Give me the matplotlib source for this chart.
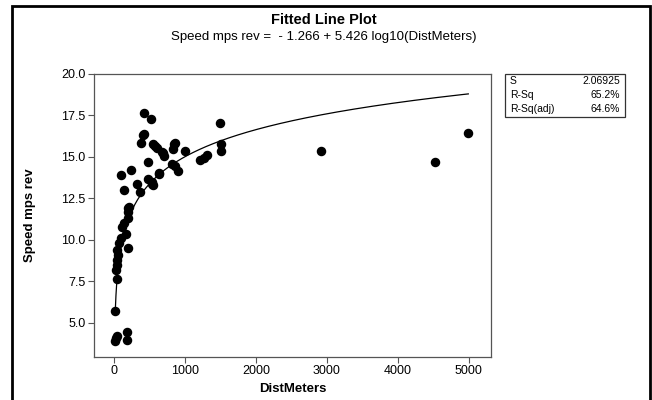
import numpy as np
import matplotlib.pyplot as plt

plt.rcParams['font.family'] = ['Liberation Sans', 'DejaVu Sans']

# distance (m) and reversed speed (m/s)
dist = [20, 30, 45, 190, 190,
        20, 44,
        35, 38, 40, 60, 45, 75, 95, 110, 140, 175, 195, 200, 200, 200, 211,
        99, 145, 244, 324, 371, 376, 413, 423, 423, 474, 479, 521, 531, 535,
        554, 554, 577, 606, 634, 638, 681, 685, 709, 812, 836, 845, 859, 859,
        897, 1000, 1211, 1272, 1305, 1488, 1502, 1502, 2915, 4516, 4991]
speed = [3.88, 4.1, 4.2, 4.42, 3.94,
         5.72, 7.66,
         8.2, 8.5, 8.8, 9.1, 9.39, 9.83, 10.1, 10.75, 11.0, 10.35, 9.5, 11.3, 11.7, 11.93, 12.0,
         13.9, 13.03, 14.19, 13.35, 12.9, 15.84, 16.34, 17.66, 16.36, 13.7, 14.7, 17.3, 13.5, 13.39,
         13.3, 15.76, 15.64, 15.56, 13.95, 14.03, 15.3, 15.23, 15.03, 14.55, 15.5, 15.76, 14.43, 15.84,
         14.15, 15.35, 14.84, 14.96, 15.1, 17.06, 15.76, 15.35, 15.35, 14.72, 16.46]

b0, b1 = -1.266, 5.426
stats_names = ['S', 'R-Sq', 'R-Sq(adj)']
stats_vals = ['2.06925', '65.2%', '64.6%']

fig = plt.figure(figsize=(6.52, 4.0), dpi=100)
ax = fig.add_axes([0.144, 0.1075, 0.609, 0.7075])

ax.scatter(dist, speed, s=34, color='black', zorder=3)
xf = np.geomspace(min(dist), max(dist), 300)
ax.plot(xf, b0 + b1 * np.log10(xf), color='black', lw=0.9)

ax.set_xlim(-282, 5310)
ax.set_ylim(2.94, 20.0)
ax.set_xticks([0, 1000, 2000, 3000, 4000, 5000])
ax.set_yticks([5.0, 7.5, 10.0, 12.5, 15.0, 17.5, 20.0])
ax.set_yticklabels(['5.0', '7.5', '10.0', '12.5', '15.0', '17.5', '20.0'])
for sp in ax.spines.values():
    sp.set_color('#555555')
    sp.set_linewidth(0.9)
ax.tick_params(direction='out', length=4, width=0.8, color='#555555', labelsize=9, pad=2)

ax.set_xlabel('DistMeters', fontsize=9.5, fontweight='bold', labelpad=4)
ax.set_ylabel('Speed mps rev', fontsize=9.5, fontweight='bold', labelpad=18)

fig.text(0.497, 0.950, 'Fitted Line Plot', ha='center', va='center', fontsize=10.5, fontweight='bold')
fig.text(0.497, 0.907, 'Speed mps rev =  - 1.266 + 5.426 log10(DistMeters)',
         ha='center', va='center', fontsize=9.5)

# stats box
box = plt.Rectangle((505 / 652, 1 - 117 / 400), 120 / 652, 43 / 400, transform=fig.transFigure,
                    fill=False, edgecolor='#333333', lw=0.9)
fig.add_artist(box)
for i, (n, v) in enumerate(zip(stats_names, stats_vals)):
    yy = 1 - (81 + i * 14) / 400
    fig.text(510 / 652, yy, n, ha='left', va='center', fontsize=7.5)
    fig.text(620 / 652, yy, v, ha='right', va='center', fontsize=7.5)

# outer frame
frame = plt.Rectangle((12 / 652, -0.02), 638 / 652, 1.005, transform=fig.transFigure,
                      fill=False, edgecolor='black', lw=2)
fig.add_artist(frame)

fig.savefig('out.png', dpi=100)
